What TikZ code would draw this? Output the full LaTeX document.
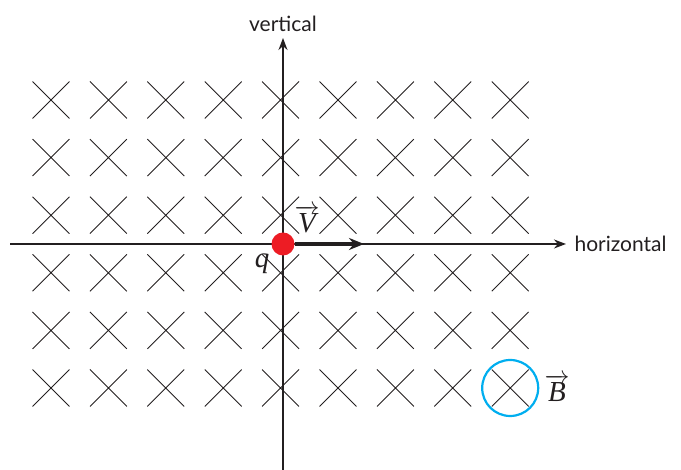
\documentclass[tikz,border=0pt]{standalone}
\usepackage{fontspec}
\setsansfont{Lato}
\setmainfont{Liberation Serif}
\usetikzlibrary{positioning, arrows.meta, shapes.misc}
\definecolor{inkgray}{HTML}{231F20}
\definecolor{chargered}{HTML}{ED1C24}
\definecolor{fieldcyan}{HTML}{00AEEF}

\begin{document}
\begin{tikzpicture}[
      x=1pt, y=1pt,
      every node/.style={text=inkgray},
      axislabel/.style={font=\sffamily\fontsize{21}{24}\selectfont},
      vecbox/.style={font=\fontsize{29}{32}\selectfont, inner sep=1pt},
      fieldx/.style={cross out, draw=inkgray, line width=0.9pt, minimum size=36pt, inner sep=0pt},
      axis/.style={draw=inkgray, line width=1.5pt, -{Stealth[length=12pt, width=9pt]}},
    ]
    \useasboundingbox (0,0) rectangle (681,470);

    % field pointing into the page
    \foreach \i in {0,...,8}
      \foreach \j in {0,...,5}
        \node[fieldx] (x\i\j) at ({51+57.4*\i},{370-57.6*\j}) {};

    \node[circle, draw=fieldcyan, line width=2.2pt, minimum size=56pt, inner sep=0pt] (ring) at (x85) {};
    \node[vecbox, right=4pt of ring] (blabel) {$\overrightarrow{\textit{B}}$};

    % axes
    \coordinate (hstart) at (10,226);
    \coordinate (hend) at (566,226);
    \coordinate (vstart) at (283,0);
    \coordinate (vend) at (283,432);
    \draw[axis] (hstart) -- (hend);
    \draw[axis] (vstart) -- (vend);
    \node[axislabel, right=5pt of hend] (hlabel) {horizontal};
    \node[axislabel, above=3pt of vend] (vlabel) {vertical};

    % charge and velocity
    \node[circle, fill=chargered, minimum size=23pt, inner sep=0pt] (q) at (283,226) {};
    \coordinate (vtip) at (364,226);
    \draw[draw=inkgray, line width=3.2pt, -{Stealth[length=15pt, width=12pt]}] (q.east) -- (vtip);
    \node[vecbox] (vlabel) at (307,251) {$\overrightarrow{\textit{V}}$};
    \node[vecbox] (qlabel) at (262,206) {\textit{q}};
  \end{tikzpicture}
\end{document}
